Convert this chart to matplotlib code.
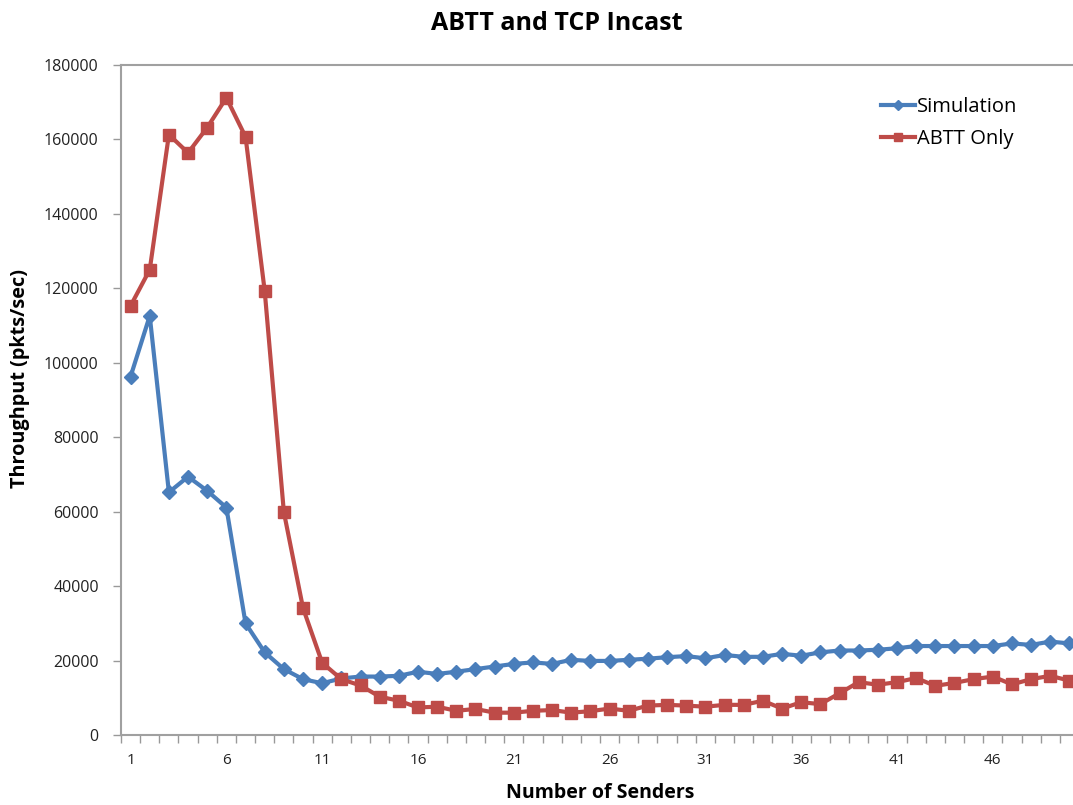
import matplotlib
matplotlib.use("Agg")
import matplotlib.pyplot as plt
import numpy as np

senders = list(range(1, 51))

simulation = [96300, 112600, 65200, 69400, 65600, 61100, 30000, 22200, 17700, 15000,
              13900, 15200, 15700, 15700, 15900, 17000, 16400, 17000, 17700, 18400,
              19100, 19500, 19100, 20200, 19900, 19900, 20200, 20500, 20900, 21200,
              20600, 21500, 21000, 21000, 21800, 21300, 22200, 22700, 22700, 22900,
              23300, 23900, 23900, 23900, 23900, 23900, 24600, 24200, 25100, 24600]

abtt_only = [115300, 125000, 161300, 156400, 163200, 171200, 160700, 119300, 59900, 34100,
             19400, 15000, 13300, 10300, 9200, 7400, 7600, 6500, 7000, 6000,
             6000, 6500, 6700, 6000, 6400, 7100, 6500, 7900, 8100, 7900,
             7600, 8100, 8100, 9200, 7100, 8800, 8300, 11200, 14200, 13500,
             14200, 15300, 13200, 14000, 15000, 15700, 13600, 15000, 15900, 14600]

x_tick_labels = [str(v) for v in range(1, 50, 5)]
y_ticks = list(range(0, 180001, 20000))

plt.rcParams['font.family'] = ['Open Sans', 'DejaVu Sans']

W, H = 1073, 805
fig = plt.figure(figsize=(W / 100, H / 100), dpi=100)
left, right, bottom, top = 121, 1079, 735, 65
ax = fig.add_axes([left / W, (H - bottom) / H, (right - left) / W, (bottom - top) / H])

blue = '#4a7ebb'
red = '#be4b48'

ax.plot(senders, simulation, color=blue, lw=3, marker='D', ms=7.5,
        markeredgecolor=blue, markerfacecolor=blue, label='Simulation', zorder=3)
ax.plot(senders, abtt_only, color=red, lw=3, marker='s', ms=9,
        markeredgecolor=red, markerfacecolor=red, label='ABTT Only', zorder=3)

ax.set_xlim(0.5, 50.5)
ax.set_ylim(0, 180000)

# Category ticks sit between points, labels every fifth sender
ax.set_xticks(np.arange(0.5, 51, 1.0))
ax.set_xticklabels([])
ax.set_xticks(list(range(1, 50, 5)), minor=True)
ax.set_xticklabels(x_tick_labels, minor=True)
ax.tick_params(axis='x', which='major', direction='out', length=6, width=1, color='#999999')
ax.tick_params(axis='x', which='minor', length=0, pad=13, labelsize=11, labelcolor='#222222')

ax.set_yticks(y_ticks)
ax.set_yticklabels([str(v) for v in y_ticks])
ax.tick_params(axis='y', direction='out', length=6, width=1, color='#999999',
               labelsize=11.5, labelcolor='#222222', pad=10)

for side in ['left', 'bottom', 'top']:
    ax.spines[side].set_color('#a0a0a0')
    ax.spines[side].set_linewidth(1.5)
ax.spines['right'].set_visible(False)

fig.text(557 / W, 1 - 23 / H, 'ABTT and TCP Incast', ha='center', va='center',
         fontsize=18, fontweight='bold', color='black')
fig.text(600 / W, 1 - 793 / H, 'Number of Senders', ha='center', va='center',
         fontsize=14, fontweight='bold', color='black')
fig.text(20 / W, 1 - 378 / H, 'Throughput (pkts/sec)', ha='center', va='center',
         rotation=90, fontsize=14.3, fontweight='bold', color='black')

leg = ax.legend(loc='upper left', bbox_to_anchor=(871 / W, 1 - 87 / H),
                bbox_transform=fig.transFigure, frameon=False, fontsize=14.5,
                handlelength=1.7, handletextpad=0.1, labelspacing=0.6, borderpad=0,
                markerscale=0.7)

fig.savefig('out.png', dpi=100)
